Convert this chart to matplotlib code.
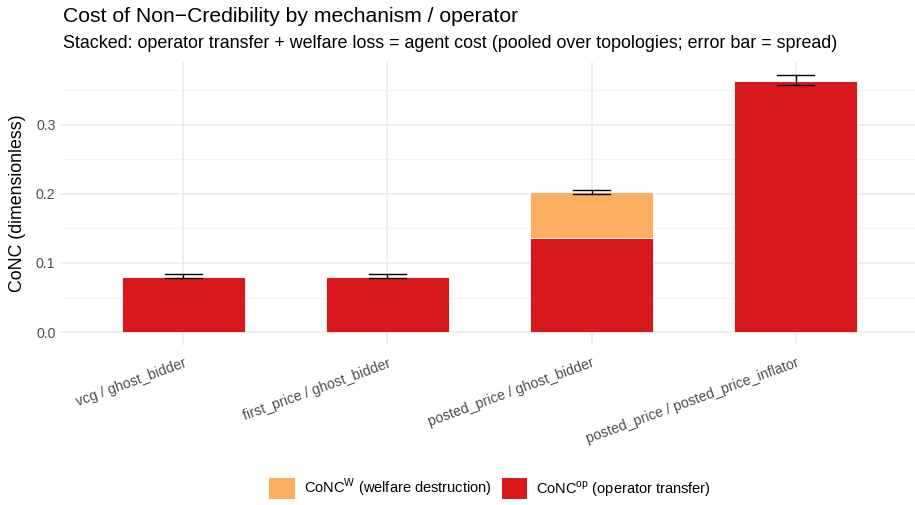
import matplotlib
matplotlib.use("Agg")
import matplotlib.pyplot as plt
from matplotlib.patches import Patch
import numpy as np

plt.rcParams['font.family'] = ['Liberation Sans', 'DejaVu Sans']

categories = ["vcg / ghost_bidder", "first_price / ghost_bidder",
              "posted_price / ghost_bidder", "posted_price / posted_price_inflator"]
conc_op = [0.0795, 0.0795, 0.1355, 0.363]
conc_w = [0.0, 0.0, 0.0665, 0.0]
err_low = [0.0785, 0.0785, 0.2000, 0.357]
err_high = [0.0845, 0.0845, 0.2060, 0.372]

RED = "#D7191C"
ORANGE = "#FDAE61"

fig = plt.figure(figsize=(9.15, 5.05), dpi=100)
ax = fig.add_axes([61/915, 1-345/505, (918-61)/915, (345-62)/505])

x = np.arange(1, len(categories)+1)
ax.bar(x, conc_op, width=0.6, color=RED, edgecolor="white", linewidth=0.6, zorder=2)
ax.bar(x, conc_w, width=0.6, bottom=conc_op, color=ORANGE, edgecolor="white", linewidth=0.6, zorder=2)

for xi, lo, hi in zip(x, err_low, err_high):
    ax.plot([xi, xi], [lo, hi], color="black", lw=1.0, zorder=3)
    ax.plot([xi-0.09, xi+0.09], [lo, lo], color="black", lw=1.0, zorder=3)
    ax.plot([xi-0.09, xi+0.09], [hi, hi], color="black", lw=1.0, zorder=3)

ax.set_xlim(0.4, 4.6)
ymax = max(err_high)
ax.set_ylim(-0.05*ymax, ymax*1.05)
ax.set_yticks([0, 0.1, 0.2, 0.3])
ax.set_yticklabels(["0.0", "0.1", "0.2", "0.3"])
ax.set_yticks([0.05, 0.15, 0.25, 0.35], minor=True)
ax.set_xticks(x)
ax.set_xticklabels(categories, rotation=20, ha="right", rotation_mode="anchor")
ax.tick_params(axis="both", length=0, colors="#4D4D4D", labelsize=10.2, pad=4)
ax.tick_params(axis="x", pad=8)
ax.tick_params(which="minor", length=0)
ax.grid(True, which="major", color="#EBEBEB", lw=1.1, zorder=0)
ax.grid(True, which="minor", axis="y", color="#F3F3F3", lw=0.6, zorder=0)
ax.set_axisbelow(True)
for s in ax.spines.values():
    s.set_visible(False)
ax.set_ylabel("CoNC (dimensionless)", fontsize=12.8, color="black", labelpad=7)

fig.text(63/915, 1-17/505, "Cost of Non\u2212Credibility by mechanism / operator",
         fontsize=15.2, va="center", ha="left")
fig.text(63/915, 1-44/505,
         "Stacked: operator transfer + welfare loss = agent cost (pooled over topologies; error bar = spread)",
         fontsize=12.9, va="center", ha="left")

handles = [Patch(facecolor=ORANGE, label="CoNC$^{\\mathregular{W}}$ (welfare destruction)"),
           Patch(facecolor=RED, label="CoNC$^{\\mathregular{op}}$ (operator transfer)")]
fig.legend(handles=handles, loc="center", bbox_to_anchor=(490/915, 1-488/505), ncol=2,
           frameon=False, fontsize=10.5, handlelength=1.75, handleheight=1.75,
           columnspacing=0.7, handletextpad=0.6)

fig.savefig("out.png", dpi=100)
